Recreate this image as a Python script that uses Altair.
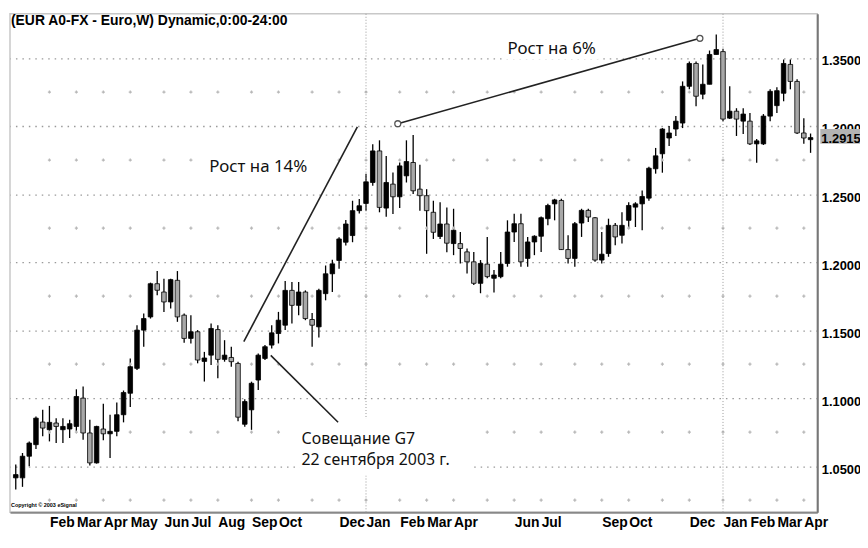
import altair as alt
import pandas as pd

# ---- data -------------------------------------------------------------
weeks = [d.strftime("%Y-%m-%d") for d in pd.date_range("2003-01-03", periods=119, freq="7D")]

opens = [1.0414, 1.0414, 1.0573, 1.0658, 1.0824, 1.0768, 1.0817, 1.0768, 1.0773, 1.0792,
         1.1000, 1.0744, 1.0524, 1.0773, 1.0738, 1.0756, 1.0878, 1.1036, 1.1219, 1.1500,
         1.1597, 1.1841, 1.1780, 1.1707, 1.1866, 1.1610, 1.1439, 1.1488, 1.1270, 1.1316,
         1.1504, 1.1285, 1.1299, 1.1255, 1.0808, 1.0914, 1.1133, 1.1292, 1.1390, 1.1475,
         1.1536, 1.1792, 1.1682, 1.1780, 1.1578, 1.1524, 1.1768, 1.1914, 1.2012, 1.2146,
         1.2195, 1.2378, 1.2431, 1.2585, 1.2817, 1.2397, 1.2573, 1.2480, 1.2634, 1.2732,
         1.2536, 1.2488, 1.2366, 1.2188, 1.2280, 1.2136, 1.2136, 1.2075, 1.2002, 1.1844,
         1.1985, 1.1881, 1.1893, 1.1990, 1.2221, 1.2282, 1.2027, 1.2148, 1.2190, 1.2319,
         1.2428, 1.2453, 1.2092, 1.2027, 1.2287, 1.2380, 1.2326, 1.2015, 1.2063, 1.2270,
         1.2197, 1.2307, 1.2404, 1.2428, 1.2470, 1.2686, 1.2796, 1.2912, 1.2978, 1.3022,
         1.3292, 1.3460, 1.3234, 1.3307, 1.3526, 1.3547, 1.3058, 1.3109, 1.3036, 1.3036,
         1.2869, 1.2869, 1.3073, 1.3150, 1.3241, 1.3453, 1.3328, 1.2949, 1.2900]

closes = [1.0438, 1.0573, 1.0670, 1.0853, 1.0780, 1.0822, 1.0792, 1.0792, 1.0812, 1.1012,
          1.0744, 1.0524, 1.0792, 1.0738, 1.0756, 1.0878, 1.1041, 1.1231, 1.1500, 1.1585,
          1.1841, 1.1793, 1.1707, 1.1871, 1.1597, 1.1439, 1.1488, 1.1280, 1.1295, 1.1512,
          1.1285, 1.1316, 1.1268, 1.0860, 1.0975, 1.1109, 1.1316, 1.1378, 1.1480, 1.1573,
          1.1792, 1.1682, 1.1780, 1.1585, 1.1536, 1.1792, 1.1914, 1.1987, 1.2170, 1.2280,
          1.2378, 1.2414, 1.2590, 1.2817, 1.2402, 1.2585, 1.2480, 1.2707, 1.2739, 1.2524,
          1.2488, 1.2378, 1.2219, 1.2280, 1.2139, 1.2234, 1.2100, 1.2002, 1.1844, 1.1990,
          1.1893, 1.1905, 1.1985, 1.2221, 1.2282, 1.2002, 1.2148, 1.2190, 1.2326, 1.2416,
          1.2457, 1.2092, 1.2027, 1.2282, 1.2380, 1.2331, 1.2015, 1.2058, 1.2270, 1.2185,
          1.2270, 1.2416, 1.2428, 1.2482, 1.2690, 1.2781, 1.2978, 1.2949, 1.3036, 1.3292,
          1.3460, 1.3219, 1.3307, 1.3526, 1.3562, 1.3051, 1.3109, 1.3051, 1.3088, 1.2869,
          1.2891, 1.3073, 1.3255, 1.3260, 1.3460, 1.3328, 1.2949, 1.2912, 1.2915]

highs = [1.0512, 1.0597, 1.0682, 1.0865, 1.0914, 1.0943, 1.0853, 1.0853, 1.0841, 1.1065,
         1.1085, 1.0841, 1.0797, 1.0958, 1.0878, 1.0968, 1.1056, 1.1292, 1.1536, 1.1622,
         1.1849, 1.1934, 1.1878, 1.1878, 1.1934, 1.1622, 1.1610, 1.1500, 1.1340, 1.1548,
         1.1536, 1.1426, 1.1378, 1.1268, 1.0992, 1.1121, 1.1329, 1.1390, 1.1536, 1.1634,
         1.1861, 1.1853, 1.1853, 1.1792, 1.1626, 1.1804, 1.1975, 1.2017, 1.2183, 1.2309,
         1.2451, 1.2463, 1.2650, 1.2866, 1.2895, 1.2780, 1.2658, 1.2732, 1.2895, 1.2934,
         1.2715, 1.2536, 1.2451, 1.2439, 1.2402, 1.2392, 1.2221, 1.2100, 1.2075, 1.2015,
         1.2185, 1.1942, 1.2075, 1.2307, 1.2355, 1.2355, 1.2185, 1.2197, 1.2336, 1.2428,
         1.2465, 1.2465, 1.2197, 1.2294, 1.2392, 1.2392, 1.2331, 1.2221, 1.2319, 1.2287,
         1.2367, 1.2440, 1.2440, 1.2526, 1.2700, 1.2839, 1.2985, 1.3000, 1.3073, 1.3328,
         1.3474, 1.3474, 1.3453, 1.3555, 1.3672, 1.3569, 1.3292, 1.3131, 1.3131, 1.3095,
         1.2905, 1.3088, 1.3270, 1.3285, 1.3489, 1.3489, 1.3343, 1.3058, 1.2945]

lows = [1.0329, 1.0348, 1.0499, 1.0626, 1.0719, 1.0682, 1.0670, 1.0670, 1.0707, 1.0756,
        1.0695, 1.0504, 1.0519, 1.0690, 1.0560, 1.0719, 1.0822, 1.0934, 1.1207, 1.1378,
        1.1585, 1.1756, 1.1634, 1.1658, 1.1561, 1.1407, 1.1402, 1.1256, 1.1122, 1.1243,
        1.1146, 1.1268, 1.1231, 1.0830, 1.0790, 1.0767, 1.1060, 1.1280, 1.1365, 1.1402,
        1.1500, 1.1548, 1.1609, 1.1573, 1.1377, 1.1446, 1.1719, 1.1780, 1.1951, 1.2122,
        1.2146, 1.2358, 1.2378, 1.2561, 1.2366, 1.2334, 1.2353, 1.2397, 1.2585, 1.2500,
        1.2378, 1.2061, 1.2170, 1.2170, 1.2073, 1.2051, 1.1990, 1.1917, 1.1832, 1.1771,
        1.1881, 1.1776, 1.1881, 1.1966, 1.2148, 1.1966, 1.1966, 1.2051, 1.2075, 1.2270,
        1.2307, 1.2088, 1.1990, 1.1966, 1.2185, 1.2294, 1.2002, 1.1990, 1.2039, 1.2124,
        1.2136, 1.2246, 1.2258, 1.2234, 1.2450, 1.2650, 1.2657, 1.2854, 1.2927, 1.2985,
        1.3270, 1.3146, 1.3197, 1.3307, 1.3526, 1.3036, 1.3051, 1.2927, 1.2942, 1.2861,
        1.2730, 1.2861, 1.3036, 1.3095, 1.3182, 1.3270, 1.2942, 1.2869, 1.2803]

# first weekly bar of each month (axis ticks) and which ones get a label
month_ticks = ["2003-02-07", "2003-03-07", "2003-04-04", "2003-05-02", "2003-06-06",
               "2003-07-04", "2003-08-01", "2003-09-05", "2003-10-03", "2003-11-07",
               "2003-12-05", "2004-01-02", "2004-02-06", "2004-03-05", "2004-04-02",
               "2004-05-07", "2004-06-04", "2004-07-02", "2004-08-06", "2004-09-03",
               "2004-10-01", "2004-11-05", "2004-12-03", "2005-01-07", "2005-02-04",
               "2005-03-04", "2005-04-01"]
label_ticks = ["2003-02-07", "2003-03-07", "2003-04-04", "2003-05-02", "2003-06-06",
               "2003-07-04", "2003-08-01", "2003-09-05", "2003-10-03", "2003-12-05",
               "2004-01-02", "2004-02-06", "2004-03-05", "2004-04-02", "2004-06-04",
               "2004-07-02", "2004-09-03", "2004-10-01", "2004-12-03", "2005-01-07",
               "2005-02-04", "2005-03-04", "2005-04-01"]
year_lines = ["2004-01-02", "2005-01-07"]
price_ticks = [1.05, 1.10, 1.15, 1.20, 1.25, 1.30, 1.35]
mid_levels = [1.025, 1.075, 1.125, 1.175, 1.225, 1.275, 1.325]
last_price = 1.2915

# annotations
ann_lines = {
    "x": ["2003-08-28", "2003-09-25", "2004-02-04"],
    "x2": ["2003-12-24", "2003-12-04", "2004-12-14"],
    "y": [1.1416, 1.1314, 1.3017],
    "y2": [1.2993, 1.0823, 1.3645],
}
circle_x = ["2004-02-04", "2004-12-14"]
circle_y = [1.3017, 1.3645]
growth_labels = ["Рост на 14%", "Рост на 6%"]
growth_x = ["2003-07-23", "2004-05-28"]
growth_y = [1.2664, 1.3526]
g7_label = "Совещание G7\n22 сентября 2003 г."
g7_x = "2003-10-27"
g7_y = 1.0664
bg_x = ["2003-07-19", "2004-05-25", "2003-10-25"]
bg_x2 = ["2003-11-09", "2004-08-31", "2004-04-20"]
bg_y = [1.2803, 1.3650, 1.0847]
bg_y2 = [1.2628, 1.3489, 1.0431]

title_text = "(EUR A0-FX - Euro,W) Dynamic,0:00-24:00"
copyright_text = "Copyright © 2003 eSignal"

# ---- tables --------------------------------------------------------------
candles = pd.DataFrame({"date": weeks, "open": opens, "high": highs,
                        "low": lows, "close": closes})
dots = pd.DataFrame([(m, lv) for m in month_ticks for lv in mid_levels],
                    columns=["date", "level"])
years = pd.DataFrame({"date": year_lines})
lines = pd.DataFrame(ann_lines)
circles = pd.DataFrame({"date": circle_x, "price": circle_y})
growth = pd.DataFrame({"date": growth_x, "price": growth_y, "label": growth_labels})
g7 = pd.DataFrame({"date": [g7_x], "price": [g7_y], "label": [g7_label]})
bgs = pd.DataFrame({"x": bg_x, "x2": bg_x2, "y": bg_y, "y2": bg_y2})
lastp = pd.DataFrame({"price": [last_price], "top": [1.2978], "bot": [1.2869],
                      "label": [f"{last_price:.4f}"]})


def dt(s):
    y, m, d = (int(v) for v in s.split("-"))
    return alt.DateTime(year=y, month=m, date=d, utc=True)


xscale = alt.Scale(type="utc", domain=[dt("2002-12-28"), dt("2005-04-15")], padding=0)
yscale = alt.Scale(domain=[1.0161, 1.3825], nice=False, zero=False, padding=0)

x_axis = alt.Axis(values=[dt(s) for s in label_ticks], format="%b", title=None,
                  labelAlign="left", labelBaseline="top", labelPadding=3,
                  labelFontSize=14, labelFontWeight="bold", labelColor="black",
                  labelFlush=False, labelOverlap=False, labelBound=False,
                  ticks=False, grid=False, domainColor="#888", domainWidth=2)
y_axis = alt.Axis(orient="right", values=price_ticks, format=".4f", title=None,
                  labelFontSize=13, labelFontWeight="bold", labelColor="black",
                  labelPadding=4, labelOffset=3, ticks=False,
                  grid=True, gridDash=[1.5, 5], gridColor="#999", gridWidth=1.3,
                  domainColor="#777", domainWidth=2)

X = lambda f: alt.X(f"{f}:T", scale=xscale, axis=x_axis, title=None)
Y = lambda f: alt.Y(f"{f}:Q", scale=yscale, axis=y_axis, title=None)

base = alt.Chart(candles)

wicks = base.mark_rule(color="black", strokeWidth=1.3).encode(
    x=X("date"), y=Y("low"), y2="high:Q",
)
bodies = base.mark_bar(size=4.6, stroke="black", strokeWidth=0.8).encode(
    x=X("date"), y=Y("open"), y2="close:Q",
    color=alt.condition("datum.close >= datum.open", alt.value("black"), alt.value("#a8a8a8")),
)

dot_layer = alt.Chart(dots).mark_point(shape="cross", size=10, filled=True,
                                        color="#b8b8b8", opacity=1).encode(
    x=X("date"), y=Y("level"))
year_layer = alt.Chart(years).mark_rule(color="#999", strokeDash=[1, 2],
                                         strokeWidth=1).encode(x=X("date"))
bg_layer = alt.Chart(bgs).mark_rect(color="white").encode(
    x=X("x"), x2="x2:T", y=Y("y"), y2="y2:Q")
line_layer = alt.Chart(lines).mark_rule(color="#222", strokeWidth=1.6).encode(
    x=X("x"), x2="x2:T", y=Y("y"), y2="y2:Q")
circle_layer = alt.Chart(circles).mark_point(shape="circle", size=36, filled=True,
                                              fill="white", stroke="#555",
                                              strokeWidth=1.3, opacity=1).encode(
    x=X("date"), y=Y("price"))
growth_layer = alt.Chart(growth).mark_text(align="left", baseline="alphabetic",
                                           font="Noto Sans", fontSize=17,
                                           color="#111").encode(
    x=X("date"), y=Y("price"), text="label:N")
g7_layer = alt.Chart(g7).mark_text(align="left", baseline="alphabetic",
                                   font="Noto Sans", fontSize=16, lineBreak="\n",
                                   lineHeight=21.5, color="#111").encode(
    x=X("date"), y=Y("price"), text="label:N")

box_layer = alt.Chart(lastp).mark_rect(color="#b3b3b3").encode(
    x=alt.value(816), x2=alt.value(858), y=Y("top"), y2="bot:Q")
box_text = alt.Chart(lastp).mark_text(align="left", baseline="middle", fontSize=13,
                                      fontWeight="bold", color="black", dy=1).encode(
    x=alt.value(817), y=Y("price"), text="label:N")

title_layer = alt.Chart(pd.DataFrame({"t": [title_text]})).mark_text(
    align="left", baseline="middle", fontSize=14, fontWeight="bold", color="black"
).encode(x=alt.value(1), y=alt.value(7), text="t:N")
copy_layer = alt.Chart(pd.DataFrame({"t": [copyright_text]})).mark_text(
    align="left", baseline="middle", fontSize=5.5, fontWeight="bold", color="black"
).encode(x=alt.value(1), y=alt.value(495), text="t:N")

chart = alt.layer(
    wicks, dot_layer, year_layer, bg_layer, bodies, line_layer, circle_layer,
    growth_layer, g7_layer, box_layer, box_text, title_layer, copy_layer,
).properties(
    width=813, height=502, autosize="none",
    padding={"left": 2, "top": 4, "right": 43, "bottom": 16},
).configure(font="Liberation Sans", background="white").configure_view(
    stroke="#c8c8c8", strokeWidth=1.5)

chart.save("out.html", embed_options={"renderer": "svg", "actions": False})
